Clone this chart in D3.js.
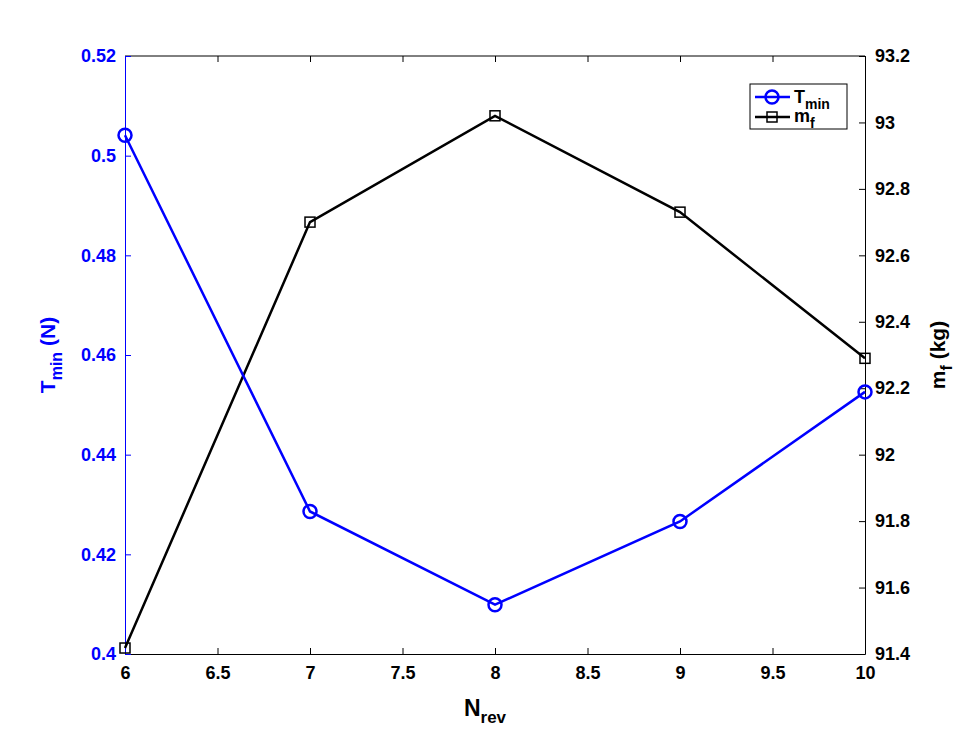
<!DOCTYPE html>
<html lang="en">
  <head>
    <meta charset="utf-8" />
    <title>Tmin and mf vs Nrev</title>
    <script src="https://d3js.org/d3.v7.min.js" charset="utf-8"></script>
    <style>
      body { margin: 0; background: #fff; }
      svg text { font-family: "Liberation Sans", Arial, sans-serif; font-weight: bold; }
    </style>
  </head>
  <body>
    <div id="svg-container"></div>
    <script>
      // data
      const nrev = [6, 7, 8, 9, 10];
      const tmin = [0.5041, 0.4286, 0.4099, 0.4266, 0.4526];
      const mf = [91.418, 92.70, 93.02, 92.73, 92.29];
      const xTicks = [6, 6.5, 7, 7.5, 8, 8.5, 9, 9.5, 10];
      const leftTicks = [0.4, 0.42, 0.44, 0.46, 0.48, 0.5, 0.52];
      const rightTicks = [91.4, 91.6, 91.8, 92, 92.2, 92.4, 92.6, 92.8, 93, 93.2];

      const W = 958, H = 734;
      const margin = { top: 56, right: 93, bottom: 80, left: 125 };
      const width = W - margin.left - margin.right;
      const height = H - margin.top - margin.bottom;
      const blue = "#0000ff";

      const svg = d3.select("#svg-container").append("svg")
        .attr("width", W).attr("height", H);
      const g = svg.append("g").attr("transform", `translate(${margin.left},${margin.top})`);

      const x = d3.scaleLinear().domain([6, 10]).range([0, width]);
      const yL = d3.scaleLinear().domain([0.4, 0.52]).range([height, 0]);
      const yR = d3.scaleLinear().domain([91.4, 93.2]).range([height, 0]);

      // box top edge
      g.append("line").attr("x1", 0).attr("x2", width).attr("y1", 0).attr("y2", 0)
        .attr("stroke", "#000");

      function styleTicks(sel, colour) {
        sel.selectAll("text")
          .style("font-size", "18px")
          .style("font-weight", "bold")
          .style("font-family", "'Liberation Sans', Arial, sans-serif")
          .attr("fill", colour);
      }

      // axes, ticks pointing inward
      const gx = g.append("g")
        .attr("transform", `translate(0,${height})`)
        .call(d3.axisBottom(x).tickValues(xTicks).tickSizeInner(-6).tickSizeOuter(0).tickPadding(12).tickFormat(d3.format("")));
      styleTicks(gx, "#000");

      // top ticks
      g.append("g").call(d3.axisTop(x).tickValues(xTicks).tickSizeInner(-6).tickSizeOuter(0).tickFormat(""))
        .select(".domain").remove();

      const gl = g.append("g")
        .call(d3.axisLeft(yL).tickValues(leftTicks).tickSizeInner(-6).tickSizeOuter(0).tickPadding(9).tickFormat(d3.format("")));
      gl.selectAll("path, line").attr("stroke", blue);
      styleTicks(gl, blue);

      const gr = g.append("g")
        .attr("transform", `translate(${width},0)`)
        .call(d3.axisRight(yR).tickValues(rightTicks).tickSizeInner(-6).tickSizeOuter(0).tickPadding(10).tickFormat(d3.format("")));
      styleTicks(gr, "#000");

      // lines
      const lineL = d3.line().x((d, i) => x(nrev[i])).y(d => yL(d));
      const lineR = d3.line().x((d, i) => x(nrev[i])).y(d => yR(d));

      g.append("path").datum(mf).attr("d", lineR)
        .attr("fill", "none").attr("stroke", "#000").attr("stroke-width", 2.5);
      g.selectAll("rect.mf").data(mf).join("rect").attr("class", "mf")
        .attr("x", (d, i) => x(nrev[i]) - 5).attr("y", d => yR(d) - 5)
        .attr("width", 10).attr("height", 10)
        .attr("fill", "none").attr("stroke", "#000").attr("stroke-width", 1.5);

      g.append("path").datum(tmin).attr("d", lineL)
        .attr("fill", "none").attr("stroke", blue).attr("stroke-width", 2.5);
      g.selectAll("circle.tmin").data(tmin).join("circle").attr("class", "tmin")
        .attr("cx", (d, i) => x(nrev[i])).attr("cy", d => yL(d)).attr("r", 6.5)
        .attr("fill", "none").attr("stroke", blue).attr("stroke-width", 2.5);

      // axis titles
      const xl = svg.append("text").attr("x", margin.left + width / 2 - 10).attr("y", 716)
        .attr("text-anchor", "middle").attr("font-size", 23);
      xl.append("tspan").text("N");
      xl.append("tspan").attr("font-size", 17).attr("dy", 7).text("rev");

      const yl = svg.append("text").attr("transform", `translate(55,${margin.top + height / 2}) rotate(-90)`)
        .attr("text-anchor", "middle").attr("font-size", 21).attr("fill", blue);
      yl.append("tspan").text("T");
      yl.append("tspan").attr("font-size", 16).attr("dy", 7).text("min");
      yl.append("tspan").attr("dy", -7).text(" (N)");

      const yr = svg.append("text").attr("transform", `translate(945,${margin.top + height / 2}) rotate(-90)`)
        .attr("text-anchor", "middle").attr("font-size", 21).attr("fill", "#000");
      yr.append("tspan").text("m");
      yr.append("tspan").attr("font-size", 16).attr("dy", 7).text("f");
      yr.append("tspan").attr("dy", -7).text(" (kg)");

      // legend
      const lg = svg.append("g").attr("transform", "translate(750,84)");
      lg.append("rect").attr("width", 97).attr("height", 45)
        .attr("fill", "#fff").attr("stroke", "#000").attr("stroke-width", 1);
      const r1 = lg.append("g").attr("transform", "translate(0,13)");
      r1.append("line").attr("x1", 5).attr("x2", 40).attr("stroke", blue).attr("stroke-width", 2.5);
      r1.append("circle").attr("cx", 22).attr("r", 6.5).attr("fill", "none").attr("stroke", blue).attr("stroke-width", 2.5);
      const t1 = r1.append("text").attr("x", 44).attr("y", 6).attr("font-size", 18);
      t1.append("tspan").text("T");
      t1.append("tspan").attr("font-size", 14).attr("dy", 6).text("min");
      const r2 = lg.append("g").attr("transform", "translate(0,33)");
      r2.append("line").attr("x1", 5).attr("x2", 40).attr("stroke", "#000").attr("stroke-width", 2.5);
      r2.append("rect").attr("x", 17).attr("y", -5).attr("width", 10).attr("height", 10)
        .attr("fill", "none").attr("stroke", "#000").attr("stroke-width", 1.5);
      const t2 = r2.append("text").attr("x", 44).attr("y", 5).attr("font-size", 18);
      t2.append("tspan").text("m");
      t2.append("tspan").attr("font-size", 14).attr("dy", 6).text("f");
    </script>
  </body>
</html>
